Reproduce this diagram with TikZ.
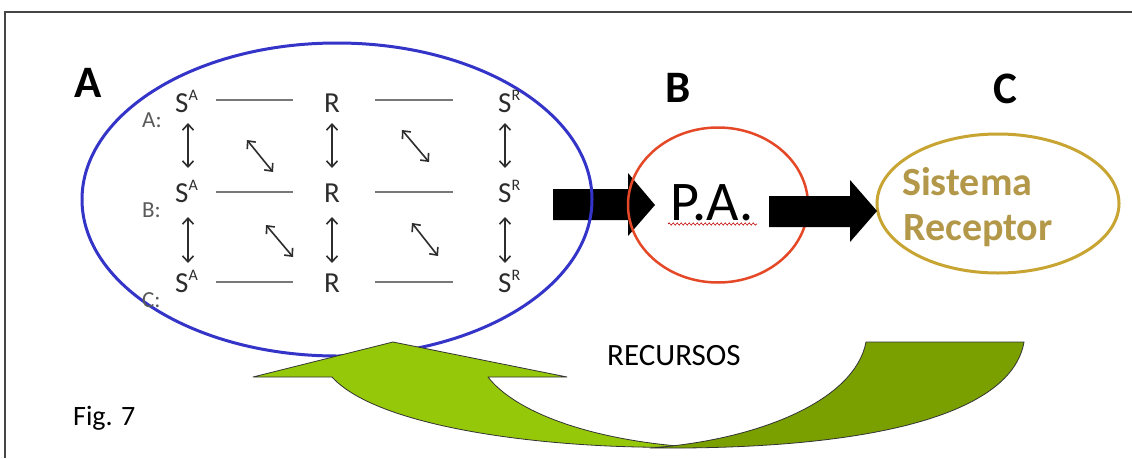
\documentclass[tikz,border=0pt]{standalone}
\usepackage{fontspec}
\setmainfont{Carlito}
\usetikzlibrary{arrows.meta,decorations.pathmorphing,shapes.geometric}
\definecolor{blueell}{RGB}{52,52,200}
\definecolor{redell}{RGB}{228,72,38}
\definecolor{goldell}{RGB}{200,165,50}
\definecolor{goldtxt}{RGB}{178,152,72}
\definecolor{lightgr}{RGB}{150,200,10}
\definecolor{darkgr}{RGB}{122,160,0}
\definecolor{gridtxt}{RGB}{45,45,45}
\definecolor{labtxt}{RGB}{90,90,90}
\definecolor{hl}{RGB}{120,120,120}
\definecolor{framec}{RGB}{70,70,70}
\newcommand{\fs}[1]{\fontsize{#1}{#1}\selectfont}
\newcommand{\supA}[1]{\rlap{\raisebox{12pt}{\fs{16}#1}}}
\begin{document}
\begin{tikzpicture}[x=1pt,y=-1pt,
  bigletter/.style={font=\fs{45}\bfseries, anchor=base, inner sep=0pt},
  rowlab/.style={font=\fs{23}, text=labtxt, anchor=base west, inner sep=0pt},
  gridnode/.style={font=\fs{29}, text=gridtxt, anchor=base west, inner sep=0pt},
  hline/.style={draw=hl, line width=2pt},
  dbl/.style={draw=gridtxt, line width=1.6pt, {Straight Barb[length=6pt,width=11pt]}-{Straight Barb[length=6pt,width=11pt]}},
  blockarrow/.style={fill=black},
  greenedge/.style={draw=black!80, line width=0.8pt, line join=round}
]
\useasboundingbox (0,0) rectangle (1132,458);
\fill[white] (0,0) rectangle (1132,458);
% frame
\draw[framec, line width=1.2pt] (1132,12) -- (5,12) -- (5,458);

% black block arrow 1 (under blue ellipse)
\fill[blockarrow] (553,189) -- (628,189) -- (628,173) -- (655,205) -- (628,236) -- (628,220) -- (553,220) -- cycle;

% ellipses
\node[ellipse, draw=blueell, line width=3pt, minimum width=510pt, minimum height=313pt, inner sep=0pt] (ellA) at (337,199.5) {};
\node[ellipse, draw=redell, line width=2.5pt, minimum width=180pt, minimum height=155pt, inner sep=0pt] (ellB) at (718,205) {};
\node[ellipse, draw=goldell, line width=3pt, minimum width=242pt, minimum height=139pt, inner sep=0pt] (ellC) at (998,203.5) {};

% black block arrow 2
\fill[blockarrow] (769,196) -- (850,196) -- (850,180) -- (877,211) -- (850,242) -- (850,227) -- (769,227) -- cycle;

% big letters
\node[bigletter] (labA) at (88,97) {A};
\node[bigletter] (labB) at (678,102) {B};
\node[bigletter] (labC) at (1005,103) {C};

% row labels
\node[rowlab] (rA) at (142,127) {A:};
\node[rowlab] (rB) at (142,217) {B:};
\node[rowlab] (rC) at (142,307) {C:};

% grid nodes
\foreach \i/\y in {1/112,2/202,3/292}{
  \node[gridnode] (sa\i) at (175,\y) {S\supA{A}};
  \node[gridnode, anchor=base] (r\i) at (332,\y) {R};
  \node[gridnode] (sr\i) at (498,\y) {S\supA{R}};
}
% horizontal lines
\foreach \y in {100,192,282}{
  \draw[hline] (216,\y) -- (293,\y);
  \draw[hline] (375,\y) -- (453,\y);
}
% vertical double arrows
\foreach \x in {188,332,505}{
  \draw[dbl] (\x,123) -- (\x,168);
  \draw[dbl] (\x,217) -- (\x,263);
}
% diagonal double arrows
\draw[dbl] (247,140) -- (273,172);
\draw[dbl] (402,130) -- (429,162);
\draw[dbl] (266,225) -- (293,257);
\draw[dbl] (412,223) -- (438,256);

% P.A.
\node[font=\fs{56}, anchor=base, inner sep=0pt] (pa) at (712,220) {P.A.};
\draw[red!75!black, line width=0.6pt, decorate, decoration={snake, amplitude=1.1pt, segment length=4pt}] (668,224) -- (757,224);

% Sistema Receptor
\node[font=\fs{40}\bfseries, text=goldtxt, anchor=base west, inner sep=0pt] (sis) at (902,195) {Sistema};
\node[font=\fs{40}\bfseries, text=goldtxt, anchor=base west, inner sep=0pt] (rec) at (903,240) {Receptor};

% green curved arrow: light (head) part
\filldraw[fill=lightgr, greenedge]
  (393,342) -- (567,377) -- (488,377)
  .. controls (515,412) and (590,440) .. (690,447)
  .. controls (560,450) and (380,430) .. (332,377)
  -- (253,377) -- cycle;
% dark (tail) part
\filldraw[fill=darkgr, greenedge]
  (866,342) -- (1024,342)
  .. controls (1012,412) and (880,450) .. (650,448)
  .. controls (760,440) and (855,400) .. (866,342) -- cycle;

% RECURSOS and Fig. 7
\node[font=\fs{31}, anchor=base west, inner sep=0pt] (recursos) at (607,365) {RECURSOS};
\node[font=\fs{28}, anchor=base west, inner sep=0pt] (fig) at (73,425) {Fig. 7};
\end{tikzpicture}
\end{document}
